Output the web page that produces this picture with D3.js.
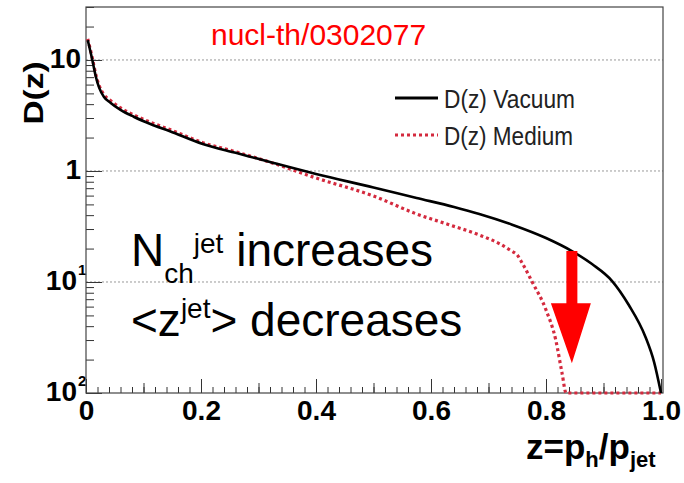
<!DOCTYPE html>
<html>
<head>
<meta charset="utf-8">
<script src="https://cdn.jsdelivr.net/npm/d3@7"></script>
<style>
    body { margin: 0; background: #fff; }
    text { font-family: "Liberation Sans", Arial, sans-serif; }
</style>
</head>
<body>
<div id="chart"></div>
<script>
// fragmentation function, vacuum vs medium
const zVacuum = [0.003, 0.011, 0.017, 0.023, 0.031, 0.043, 0.06, 0.083, 0.112, 0.146, 0.203, 0.262, 0.32, 0.4, 0.5, 0.575, 0.64, 0.684, 0.74, 0.8, 0.845, 0.88, 0.915, 0.944, 0.973, 0.988, 1.0];
const dVacuum = [15.1, 10, 7.1, 5.6, 4.67, 4.1, 3.55, 3.08, 2.65, 2.28, 1.75, 1.45, 1.205, 0.94, 0.71, 0.571, 0.474, 0.41, 0.33, 0.249, 0.19, 0.145, 0.102, 0.062, 0.032, 0.019, 0.01];

const zMedium = [0.003, 0.011, 0.017, 0.023, 0.031, 0.043, 0.06, 0.083, 0.112, 0.146, 0.203, 0.262, 0.32, 0.4, 0.5, 0.575, 0.63, 0.684, 0.72, 0.74, 0.75, 0.758, 0.776, 0.8, 0.817, 0.828, 0.835, 0.87, 0.92, 0.96, 1.0];
const dMedium = [15.5, 10.4, 7.4, 5.85, 4.9, 4.3, 3.7, 3.2, 2.75, 2.36, 1.8, 1.48, 1.2, 0.865, 0.595, 0.41, 0.33, 0.265, 0.22, 0.19, 0.175, 0.15, 0.1, 0.056, 0.03, 0.015, 0.01, 0.01, 0.01, 0.01, 0.01];

const seriesNames = ["D(z) Vacuum", "D(z) Medium"];

const xTickValues = [0, 0.2, 0.4, 0.6, 0.8, 1.0];
const xTickLabels = ["0", "0.2", "0.4", "0.6", "0.8", "1.0"];

const yTickValues = [10, 1, 0.1, 0.01];
const yTickBase = ["10", "1", "10", "10"];
const yTickExp = ["", "", "1", "2"];

// arrow annotation: z position, from D to D
const arrowZ = 0.845;
const arrowFrom = 0.19;
const arrowTo = 0.0185;

class FragChart {
    constructor() {
        this.width = 684;
        this.height = 483;
        this.left = 86;
        this.right = 663;
        this.top = 7;
        this.bottom = 393;
        this.svg = null;
        this.x = null;
        this.y = null;
    }

    createSVG() {
        this.svg = d3.select("#chart")
            .append("svg")
            .attr("width", this.width)
            .attr("height", this.height);
        this.svg.append("rect")
            .attr("width", this.width)
            .attr("height", this.height)
            .attr("fill", "#fff");
    }

    init() {
        this.x = d3.scaleLinear().domain([0, 1]).range([this.left, 661]);
        this.y = d3.scaleLog().domain([0.01, 30]).range([this.bottom, this.top]);

        // grid lines
        this.svg.selectAll(".grid")
            .data(yTickValues.slice(0, 3))
            .enter()
            .append("line")
            .attr("class", "grid")
            .attr("x1", this.left)
            .attr("x2", this.right)
            .attr("y1", d => this.y(d))
            .attr("y2", d => this.y(d))
            .attr("stroke", "#999")
            .attr("stroke-width", 1)
            .attr("stroke-dasharray", "2,2");

        // x ticks, inside the frame
        let xMinor = d3.range(0, 1.0001, 0.02);
        let xMid = d3.range(0.1, 1, 0.2);
        this.svg.append("g")
            .attr("transform", "translate(0," + this.bottom + ")")
            .call(d3.axisBottom(this.x).tickValues(xMinor).tickSize(-6).tickFormat(""))
            .call(g => g.select(".domain").remove());
        this.svg.append("g")
            .attr("transform", "translate(0," + this.bottom + ")")
            .call(d3.axisBottom(this.x).tickValues(xMid).tickSize(-10).tickFormat(""))
            .call(g => g.select(".domain").remove());
        let xAxis = this.svg.append("g")
            .attr("transform", "translate(0," + this.bottom + ")")
            .call(d3.axisBottom(this.x).tickValues(xTickValues).tickSize(-14)
                .tickFormat((d, i) => xTickLabels[i]).tickPadding(7));
        xAxis.select(".domain").remove();
        xAxis.selectAll("text")
            .attr("font-size", 28)
            .attr("font-weight", "bold")
            .attr("fill", "#000")
            .attr("font-family", "Liberation Sans, Arial, sans-serif");
        this.svg.selectAll(".tick line").attr("stroke", "#333");

        // y ticks, log minor
        let yMinor = [];
        [0.01, 0.1, 1, 10].forEach(dec => {
            for (let k = 2; k <= 9; k++) {
                if (dec * k <= 30) yMinor.push(dec * k);
            }
        });
        this.svg.append("g")
            .attr("transform", "translate(" + this.left + ",0)")
            .call(d3.axisLeft(this.y).tickValues(yMinor).tickSize(-8).tickFormat(""))
            .call(g => g.select(".domain").remove())
            .selectAll("line").attr("stroke", "#333");
        this.svg.append("g")
            .attr("transform", "translate(" + this.left + ",0)")
            .call(d3.axisLeft(this.y).tickValues(yTickValues).tickSize(-16).tickFormat(""))
            .call(g => g.select(".domain").remove())
            .selectAll("line").attr("stroke", "#333");

        this.svg.selectAll(".ylab")
            .data(yTickValues)
            .enter()
            .append("text")
            .attr("class", "ylab")
            .attr("x", (d, i) => yTickExp[i] ? 77 : 81)
            .attr("y", d => this.y(d) + 8)
            .attr("text-anchor", "end")
            .attr("font-size", 28)
            .attr("font-weight", "bold")
            .text((d, i) => yTickBase[i]);
        this.svg.selectAll(".yexp")
            .data(yTickValues)
            .enter()
            .append("text")
            .attr("class", "yexp")
            .attr("x", 78)
            .attr("y", d => this.y(d) - 7)
            .attr("font-size", 15)
            .attr("font-weight", "bold")
            .text((d, i) => yTickExp[i]);

        // frame
        this.svg.append("rect")
            .attr("x", this.left)
            .attr("y", this.top)
            .attr("width", this.right - this.left)
            .attr("height", this.bottom - this.top)
            .attr("fill", "none")
            .attr("stroke", "#444")
            .attr("stroke-width", 1.2);

        // curves
        let line = d3.line()
            .x(d => this.x(d[0]))
            .y(d => this.y(d[1]))
            .curve(d3.curveMonotoneX);

        this.svg.append("path")
            .datum(d3.zip(zMedium, dMedium))
            .attr("d", line)
            .attr("fill", "none")
            .attr("stroke", "#d42a3e")
            .attr("stroke-width", 3.2)
            .attr("stroke-dasharray", "3,3");

        this.svg.append("path")
            .datum(d3.zip(zVacuum, dVacuum))
            .attr("d", line)
            .attr("fill", "none")
            .attr("stroke", "#000")
            .attr("stroke-width", 2.6);

        // legend
        let legend = this.svg.append("g");
        let styles = [
            { stroke: "#000", dash: null, y: 98 },
            { stroke: "#d42a3e", dash: "3,3", y: 135 }
        ];
        seriesNames.forEach((name, i) => {
            legend.append("line")
                .attr("x1", 395).attr("x2", 438)
                .attr("y1", styles[i].y).attr("y2", styles[i].y)
                .attr("stroke", styles[i].stroke)
                .attr("stroke-width", 3)
                .attr("stroke-dasharray", styles[i].dash);
            legend.append("text")
                .attr("x", 444)
                .attr("y", styles[i].y + 10)
                .attr("font-size", 25)
                .attr("textLength", i === 0 ? 131 : 129)
                .attr("lengthAdjust", "spacingAndGlyphs")
                .attr("fill", "#222")
                .text(name);
        });

        // axis titles
        this.svg.append("text")
            .attr("transform", "translate(43,93) rotate(-90)")
            .attr("text-anchor", "middle")
            .attr("font-size", 28)
            .attr("font-weight", "bold")
            .attr("textLength", 63)
            .attr("lengthAdjust", "spacingAndGlyphs")
            .text("D(z)");

        let xt = this.svg.append("text")
            .attr("x", 526)
            .attr("y", 459)
            .attr("font-size", 35)
            .attr("font-weight", "bold");
        xt.append("tspan").text("z=p");
        xt.append("tspan").attr("font-size", 22).attr("dy", 8).text("h");
        xt.append("tspan").attr("dy", -8).text("/p");
        xt.append("tspan").attr("font-size", 22).attr("dy", 8).text("jet");

        // annotations
        this.svg.append("text")
            .attr("x", 211)
            .attr("y", 45)
            .attr("font-size", 30)
            .attr("fill", "#ff0000")
            .text("nucl-th/0302077");

        let t1 = this.svg.append("text")
            .attr("x", 131)
            .attr("y", 266)
            .attr("font-size", 46)
            .attr("fill", "#000");
        t1.append("tspan").text("N");
        t1.append("tspan").attr("font-size", 28).attr("dy", 17).text("ch");
        t1.append("tspan").attr("font-size", 28).attr("dy", -30).text("jet");
        t1.append("tspan").attr("dy", 13).text(" increases");

        let t2 = this.svg.append("text")
            .attr("x", 131)
            .attr("y", 336)
            .attr("font-size", 46)
            .attr("fill", "#000");
        t2.append("tspan").text("<z");
        t2.append("tspan").attr("font-size", 28).attr("dy", -18).text("jet");
        t2.append("tspan").attr("dy", 18).text("> decreases");

        // red arrow
        let ax = this.x(arrowZ);
        let y0 = this.y(arrowFrom);
        let y1 = this.y(arrowTo);
        let headLen = 60;
        this.svg.append("path")
            .attr("d", `M${ax - 5.5},${y0} L${ax + 5.5},${y0} L${ax + 5.5},${y1 - headLen} L${ax + 19},${y1 - headLen} L${ax},${y1} L${ax - 21},${y1 - headLen} L${ax - 5.5},${y1 - headLen} Z`)
            .attr("fill", "#ff0000");
    }
}

let chart = new FragChart();
chart.createSVG();
chart.init();
</script>
</body>
</html>
